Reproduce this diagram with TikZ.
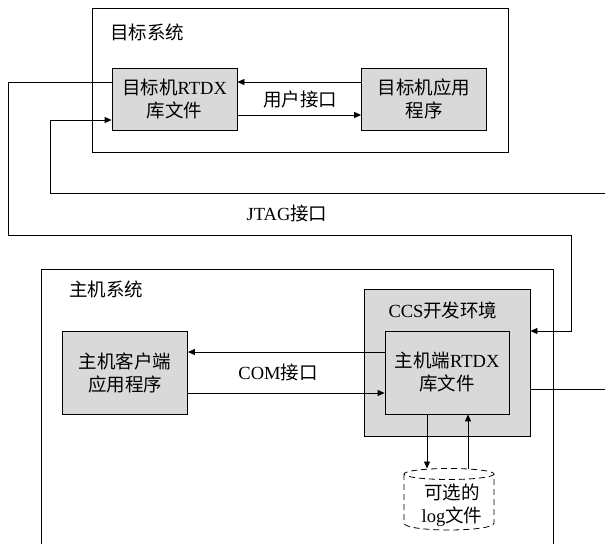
\documentclass[tikz,border=0pt]{standalone}
\usepackage{fontspec}
\setmainfont{Liberation Serif}
\newfontfamily\cjk{Noto Sans CJK SC}
\usetikzlibrary{arrows.meta}
\definecolor{boxgray}{RGB}{217,217,217}
\begin{document}
\begin{tikzpicture}[x=1pt,y=-1pt, line width=0.8pt,
  every node/.style={font=\fontsize{18.5}{23}\selectfont},
  box/.style={draw, fill=boxgray, align=center, inner sep=0pt},
  lbl/.style={inner sep=0pt, align=center},
  arr/.style={-{Triangle[length=7pt,width=6pt]}},
  dsh/.style={dash pattern=on 6pt off 4pt}]
\useasboundingbox (0,0) rectangle (605,544);
\fill[white] (0,0) rectangle (605,544);

% ---------- target system ----------
\node[draw, minimum width=416pt, minimum height=144pt, inner sep=0pt] (tsys) at (300,80) {};
\node[lbl, anchor=west] (tsyslbl) at (110,32) {\cjk 目标系统};
\node[box, minimum width=125pt, minimum height=62pt] (trtdx) at (174.5,99) {{\cjk 目标机}RTDX\\{\cjk 库文件}};
\node[box, minimum width=125pt, minimum height=62pt] (tapp) at (424,99) {{\cjk 目标机应用}\\{\cjk 程序}};
\node[lbl] (ulbl) at (300,99) {\cjk 用户接口};

\coordinate (ya) at (0,82);
\coordinate (yb) at (0,115);
\draw[arr] (tapp.west |- ya) -- (trtdx.east |- ya);
\draw[arr] (trtdx.east |- yb) -- (tapp.west |- yb);

% ---------- JTAG loops ----------
\coordinate (j1) at (8,235);
\coordinate (j2) at (571,331);
\coordinate (ye) at (0,331);
\coordinate (r1) at (605,193);
\coordinate (r2) at (50,120);
\coordinate (r3) at (605,389);
\node[lbl] (jlbl) at (287,213) {JTAG{\cjk 接口}};

% ---------- host system ----------
\coordinate (hbl) at (41,544);
\coordinate (htl) at (41,269);
\coordinate (htr) at (553,269);
\coordinate (hbr) at (553,544);
\draw (hbl) -- (htl) -- (htr) -- (hbr);
\node[lbl, anchor=west] (hsyslbl) at (69,289) {\cjk 主机系统};

\node[box, minimum width=166pt, minimum height=147pt] (ccs) at (447,362.5) {};
\node[lbl] (ccslbl) at (443,310) {CCS{\cjk 开发环境}};
\node[box, minimum width=124pt, minimum height=83pt] (hrtdx) at (447,372.5) {{\cjk 主机端}RTDX\\{\cjk 库文件}};
\node[box, minimum width=125pt, minimum height=83pt] (client) at (125,372.5) {{\cjk 主机客户端}\\{\cjk 应用程序}};
\node[lbl] (comlbl) at (278,372) {COM{\cjk 接口}};

\coordinate (yc) at (0,352);
\coordinate (yd) at (0,393);
\draw[arr] (hrtdx.west |- yc) -- (client.east |- yc);
\draw[arr] (client.east |- yd) -- (hrtdx.west |- yd);

\draw[arr] (trtdx.west |- ya) -| (j1) -| (j2) -- (ccs.east |- ye);
\draw[arr] (r1) -| (r2) -- (trtdx.west |- r2);
\draw (ccs.east |- r3) -- (r3);

% ---------- log file ----------
\node[lbl] (log) at (452,505.5) {{\cjk 可选的}\\log{\cjk 文件}};
\draw[dsh] (449,474) ellipse [x radius=45, y radius=5.5];
\draw[dsh] (404,474) -- (404,523) .. controls (404,532.3) and (494,532.3) .. (494,523) -- (494,474);
\coordinate (xa) at (427,0);
\coordinate (xb) at (468,0);
\coordinate (la) at (427,468.5);
\coordinate (lb) at (468,469);
\draw[arr] (hrtdx.south -| xa) -- (la);
\draw[arr] (lb) -- (hrtdx.south -| xb);
\end{tikzpicture}
\end{document}
